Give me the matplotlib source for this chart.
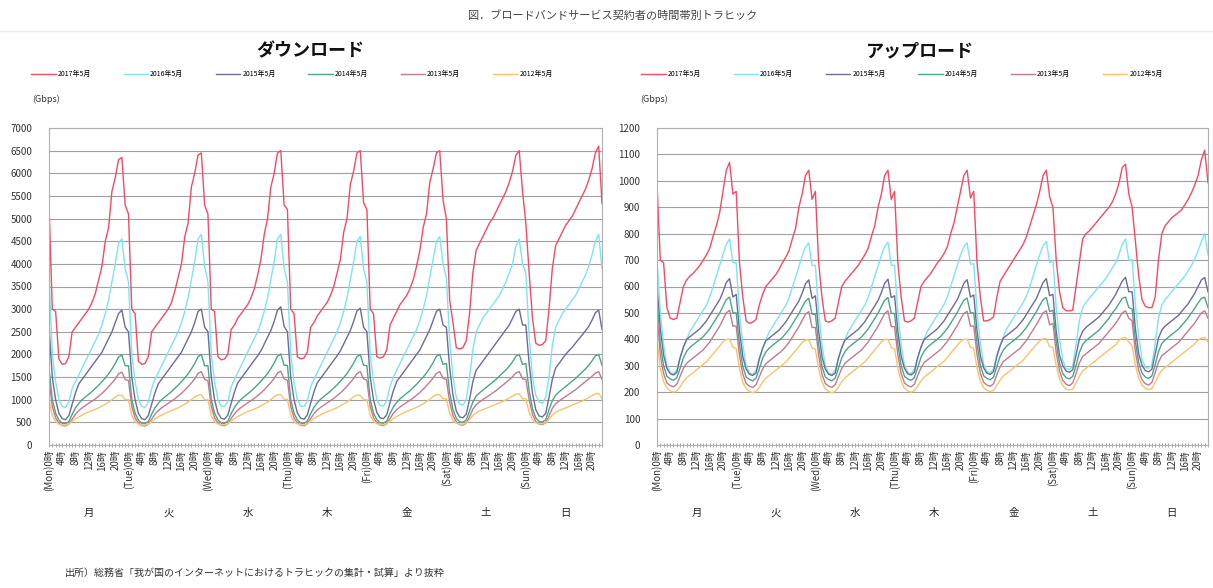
import numpy as np
import matplotlib.pyplot as plt

plt.rcParams['font.family'] = ['Noto Sans CJK JP', 'DejaVu Sans']

# legend labels / colors
YEARS = ['2017年5月', '2016年5月', '2015年5月', '2014年5月', '2013年5月', '2012年5月']
COLORS = ['#f04c66', '#80e4ee', '#6c6c94', '#4aa58a', '#c27a94', '#f7c46c']
DAYS_EN = ['Mon', 'Tue', 'Wed', 'Thu', 'Fri', 'Sat', 'Sun']
DAYS_JP = ['月', '火', '水', '木', '金', '土', '日']

# ---- download (Gbps), one row per day, hours 0..23 ----
DL_2017 = [
    [5300, 3000, 2950, 1900, 1780, 1800, 1950, 2500, 2600, 2700, 2800, 2900, 3000, 3150, 3350, 3650, 3950, 4500, 4800, 5600, 5900, 6300, 6350, 5300],
    [5100, 3000, 2900, 1850, 1780, 1800, 1950, 2500, 2600, 2700, 2800, 2900, 3000, 3150, 3400, 3700, 4000, 4600, 4900, 5700, 6000, 6400, 6450, 5300],
    [5100, 3000, 2950, 1950, 1880, 1900, 2000, 2550, 2650, 2800, 2900, 3000, 3100, 3250, 3450, 3750, 4100, 4650, 5000, 5700, 6000, 6450, 6500, 5300],
    [5200, 3000, 2900, 1950, 1900, 1920, 2050, 2600, 2700, 2850, 2950, 3050, 3150, 3300, 3500, 3800, 4100, 4700, 5000, 5750, 6050, 6450, 6500, 5350],
    [5200, 3000, 2900, 1950, 1920, 1950, 2100, 2650, 2800, 2950, 3100, 3200, 3300, 3450, 3650, 3950, 4300, 4800, 5100, 5800, 6100, 6450, 6500, 5400],
    [5000, 3200, 2700, 2150, 2120, 2150, 2300, 2900, 3800, 4300, 4450, 4600, 4750, 4900, 5000, 5150, 5300, 5450, 5600, 5800, 6050, 6400, 6500, 5600],
    [4900, 3800, 2800, 2250, 2200, 2220, 2300, 3000, 3900, 4400, 4550, 4700, 4850, 4950, 5050, 5200, 5350, 5500, 5650, 5850, 6100, 6450, 6600, 5330],
]
DL_2016 = [
    [3700, 2000, 1400, 1000, 850, 830, 950, 1250, 1400, 1550, 1700, 1850, 2000, 2150, 2300, 2450, 2650, 2900, 3200, 3600, 4000, 4450, 4550, 3900],
    [3600, 2000, 1400, 1000, 850, 830, 950, 1250, 1450, 1600, 1750, 1900, 2050, 2200, 2350, 2500, 2700, 2950, 3250, 3650, 4050, 4550, 4650, 3950],
    [3600, 2000, 1400, 1000, 860, 850, 960, 1280, 1450, 1600, 1750, 1900, 2050, 2200, 2350, 2500, 2700, 2950, 3250, 3650, 4050, 4550, 4650, 3900],
    [3600, 2000, 1400, 1000, 860, 850, 960, 1280, 1450, 1600, 1750, 1900, 2050, 2200, 2350, 2500, 2700, 2950, 3250, 3650, 4050, 4500, 4600, 3900],
    [3600, 2000, 1400, 1000, 870, 860, 980, 1300, 1500, 1650, 1800, 1950, 2100, 2250, 2400, 2550, 2750, 3000, 3300, 3700, 4100, 4500, 4600, 4000],
    [3700, 2300, 1500, 1050, 900, 880, 1000, 1500, 2100, 2500, 2650, 2800, 2900, 3000, 3100, 3200, 3300, 3450, 3600, 3800, 4000, 4400, 4550, 4000],
    [3800, 2400, 1500, 1100, 950, 920, 1050, 1500, 2200, 2600, 2750, 2900, 3000, 3100, 3200, 3300, 3450, 3600, 3750, 3950, 4200, 4500, 4650, 3900],
]
DL_2015 = [
    [2600, 1500, 1000, 700, 580, 560, 650, 900, 1150, 1350, 1450, 1550, 1650, 1750, 1850, 1950, 2050, 2200, 2350, 2500, 2700, 2900, 2980, 2600],
    [2500, 1500, 1000, 700, 580, 560, 650, 900, 1150, 1350, 1450, 1550, 1650, 1750, 1850, 1950, 2050, 2200, 2350, 2500, 2700, 2950, 3000, 2600],
    [2500, 1500, 1000, 710, 590, 570, 660, 920, 1170, 1370, 1470, 1570, 1670, 1770, 1870, 1970, 2080, 2230, 2380, 2530, 2730, 2980, 3050, 2620],
    [2500, 1500, 1000, 710, 590, 570, 660, 920, 1170, 1370, 1470, 1570, 1670, 1770, 1870, 1970, 2080, 2230, 2380, 2530, 2730, 2960, 3020, 2600],
    [2500, 1500, 1000, 720, 600, 580, 670, 940, 1200, 1400, 1500, 1600, 1700, 1800, 1900, 2000, 2100, 2250, 2400, 2550, 2750, 2950, 3000, 2650],
    [2600, 1700, 1100, 750, 620, 600, 680, 1000, 1400, 1650, 1750, 1850, 1950, 2050, 2150, 2250, 2350, 2450, 2550, 2650, 2800, 2950, 3000, 2650],
    [2650, 1800, 1150, 780, 640, 620, 700, 1050, 1450, 1700, 1800, 1900, 2000, 2080, 2160, 2250, 2340, 2430, 2520, 2620, 2760, 2920, 2980, 2550],
]
DL_2014 = [
    [1700, 1000, 700, 550, 480, 470, 520, 680, 820, 920, 1000, 1060, 1120, 1180, 1250, 1320, 1400, 1480, 1570, 1680, 1800, 1940, 1990, 1750],
    [1750, 1000, 700, 550, 480, 470, 520, 680, 820, 920, 1000, 1060, 1120, 1180, 1250, 1320, 1400, 1480, 1570, 1680, 1800, 1950, 2000, 1750],
    [1750, 1000, 700, 555, 485, 475, 525, 690, 830, 930, 1010, 1070, 1130, 1190, 1260, 1330, 1410, 1490, 1580, 1690, 1810, 1960, 2010, 1760],
    [1760, 1000, 700, 555, 485, 475, 525, 690, 830, 930, 1010, 1070, 1130, 1190, 1260, 1330, 1410, 1490, 1580, 1690, 1810, 1950, 2000, 1760],
    [1750, 1000, 700, 560, 490, 480, 530, 700, 840, 940, 1020, 1080, 1140, 1200, 1270, 1340, 1420, 1500, 1590, 1700, 1820, 1960, 2000, 1780],
    [1800, 1150, 780, 590, 510, 500, 550, 750, 950, 1080, 1150, 1210, 1270, 1330, 1390, 1450, 1520, 1590, 1660, 1740, 1840, 1960, 2000, 1780],
    [1800, 1200, 800, 600, 520, 510, 560, 780, 980, 1100, 1170, 1230, 1290, 1350, 1410, 1470, 1540, 1610, 1680, 1760, 1860, 1970, 2000, 1760],
]
DL_2013 = [
    [1450, 850, 600, 480, 430, 420, 460, 570, 680, 760, 820, 870, 920, 970, 1020, 1080, 1140, 1210, 1290, 1370, 1460, 1570, 1610, 1450],
    [1420, 850, 600, 480, 430, 420, 460, 570, 680, 760, 820, 870, 920, 970, 1020, 1080, 1140, 1210, 1290, 1370, 1460, 1580, 1620, 1450],
    [1420, 850, 600, 485, 435, 425, 465, 580, 690, 770, 830, 880, 930, 980, 1030, 1090, 1150, 1220, 1300, 1380, 1470, 1590, 1630, 1460],
    [1430, 850, 600, 485, 435, 425, 465, 580, 690, 770, 830, 880, 930, 980, 1030, 1090, 1150, 1220, 1300, 1380, 1470, 1580, 1620, 1460],
    [1430, 850, 600, 490, 440, 430, 470, 590, 700, 780, 840, 890, 940, 990, 1040, 1100, 1160, 1230, 1310, 1390, 1480, 1580, 1620, 1470],
    [1450, 950, 650, 510, 450, 440, 480, 620, 790, 890, 950, 1000, 1050, 1100, 1150, 1200, 1260, 1320, 1380, 1440, 1510, 1590, 1620, 1460],
    [1450, 1000, 680, 520, 460, 450, 490, 640, 810, 910, 970, 1020, 1070, 1120, 1170, 1220, 1280, 1340, 1400, 1460, 1520, 1590, 1620, 1450],
]
DL_2012 = [
    [1000, 650, 520, 460, 440, 440, 460, 520, 580, 620, 660, 700, 730, 760, 790, 820, 860, 900, 950, 1000, 1060, 1100, 1100, 1000],
    [1000, 650, 520, 460, 440, 440, 460, 520, 580, 620, 660, 700, 730, 760, 790, 820, 860, 900, 950, 1000, 1060, 1100, 1110, 1000],
    [1000, 650, 520, 465, 445, 445, 465, 525, 585, 625, 665, 705, 735, 765, 795, 825, 865, 905, 955, 1005, 1065, 1110, 1110, 1010],
    [1010, 650, 520, 465, 445, 445, 465, 525, 585, 625, 665, 705, 735, 765, 795, 825, 865, 905, 955, 1005, 1065, 1100, 1100, 1000],
    [1000, 650, 525, 470, 450, 450, 470, 530, 590, 630, 670, 710, 740, 770, 800, 830, 870, 910, 960, 1010, 1070, 1110, 1110, 1020],
    [1020, 700, 550, 480, 460, 460, 480, 560, 650, 710, 750, 780, 810, 840, 870, 900, 930, 960, 1000, 1040, 1080, 1120, 1130, 1020],
    [1020, 720, 560, 490, 465, 465, 485, 570, 660, 720, 760, 790, 820, 850, 880, 910, 940, 970, 1010, 1050, 1090, 1130, 1140, 1030],
]

# ---- upload (Gbps) ----
UL_2017 = [
    [990, 700, 690, 520, 480, 475, 480, 540, 600, 625, 640, 650, 665, 680, 700, 720, 745, 790, 830, 880, 960, 1040, 1070, 950],
    [960, 690, 560, 470, 460, 465, 475, 530, 570, 600, 615, 630, 645, 665, 690, 710, 735, 780, 820, 900, 950, 1020, 1040, 930],
    [960, 690, 560, 470, 465, 470, 480, 540, 600, 620, 635, 650, 665, 680, 700, 720, 745, 790, 830, 900, 950, 1020, 1040, 930],
    [960, 690, 560, 470, 465, 470, 480, 540, 600, 620, 635, 650, 670, 690, 705, 725, 750, 800, 840, 900, 960, 1020, 1040, 935],
    [960, 690, 560, 470, 470, 475, 485, 560, 620, 640, 660, 680, 700, 720, 740, 760, 790, 830, 870, 910, 960, 1020, 1040, 940],
    [900, 700, 580, 520, 508, 508, 510, 600, 690, 780, 800, 810, 825, 840, 855, 870, 885, 900, 920, 950, 990, 1050, 1063, 950],
    [900, 770, 640, 550, 525, 520, 520, 560, 700, 800, 830, 845, 860, 870, 880, 890, 910, 930, 955, 985, 1020, 1080, 1116, 993],
]
UL_2016 = [
    [700, 500, 380, 300, 275, 270, 285, 330, 370, 400, 430, 450, 470, 490, 510, 530, 560, 600, 640, 680, 720, 760, 780, 690],
    [690, 500, 380, 300, 272, 268, 282, 328, 368, 398, 428, 448, 468, 488, 508, 528, 555, 595, 635, 675, 715, 750, 765, 680],
    [680, 500, 380, 300, 272, 268, 282, 330, 370, 400, 430, 450, 470, 490, 510, 530, 558, 598, 638, 678, 718, 752, 768, 680],
    [680, 500, 380, 302, 275, 270, 285, 332, 372, 402, 432, 452, 472, 492, 512, 532, 560, 600, 640, 680, 720, 750, 765, 685],
    [685, 505, 385, 305, 278, 273, 288, 340, 380, 410, 440, 460, 480, 500, 520, 540, 565, 600, 640, 680, 720, 755, 770, 690],
    [700, 520, 400, 320, 290, 285, 300, 380, 470, 520, 540, 555, 570, 585, 600, 615, 630, 650, 670, 690, 720, 760, 780, 700],
    [700, 530, 410, 325, 295, 290, 305, 385, 480, 530, 550, 565, 580, 595, 610, 625, 640, 660, 680, 705, 735, 770, 800, 720],
]
UL_2015 = [
    [600, 440, 340, 290, 270, 265, 275, 330, 370, 400, 410, 420, 430, 440, 455, 470, 490, 510, 530, 550, 580, 615, 630, 560],
    [570, 430, 335, 288, 268, 263, 272, 325, 365, 395, 405, 415, 425, 435, 450, 465, 485, 505, 525, 545, 575, 610, 625, 555],
    [565, 430, 335, 288, 268, 263, 272, 328, 368, 398, 408, 418, 428, 438, 452, 467, 487, 507, 527, 547, 577, 612, 628, 558],
    [565, 430, 336, 290, 270, 265, 275, 330, 370, 400, 410, 420, 430, 440, 455, 470, 490, 510, 530, 550, 580, 612, 626, 560],
    [568, 432, 338, 292, 272, 267, 278, 335, 375, 405, 415, 425, 435, 445, 460, 475, 495, 515, 535, 555, 585, 615, 630, 565],
    [570, 430, 340, 300, 280, 275, 285, 340, 400, 430, 445, 455, 465, 475, 485, 500, 515, 530, 550, 570, 595, 620, 635, 580],
    [580, 440, 345, 302, 282, 277, 287, 345, 405, 435, 450, 460, 470, 480, 490, 505, 520, 535, 555, 575, 600, 625, 634, 580],
]
UL_2014 = [
    [560, 380, 300, 260, 250, 245, 255, 290, 330, 355, 370, 380, 390, 400, 410, 425, 440, 460, 480, 500, 525, 550, 560, 500],
    [500, 378, 298, 258, 248, 243, 253, 288, 328, 352, 367, 377, 387, 397, 407, 422, 437, 457, 477, 497, 522, 545, 555, 495],
    [495, 378, 298, 258, 248, 243, 253, 290, 330, 354, 369, 379, 389, 399, 409, 424, 439, 459, 479, 499, 524, 548, 558, 498],
    [498, 380, 300, 260, 250, 245, 255, 292, 332, 356, 371, 381, 391, 401, 411, 426, 441, 461, 481, 501, 526, 548, 556, 500],
    [500, 382, 302, 262, 252, 247, 257, 296, 336, 360, 375, 385, 395, 405, 415, 430, 445, 465, 485, 505, 528, 550, 558, 505],
    [510, 390, 310, 270, 255, 250, 260, 300, 350, 380, 395, 405, 415, 425, 435, 450, 465, 480, 500, 515, 535, 555, 560, 520],
    [515, 392, 312, 272, 257, 252, 262, 304, 354, 384, 398, 408, 418, 428, 438, 452, 467, 482, 500, 518, 538, 555, 559, 520],
]
UL_2013 = [
    [500, 340, 270, 235, 225, 220, 230, 260, 290, 310, 320, 330, 340, 350, 360, 375, 390, 410, 430, 450, 475, 500, 510, 450],
    [450, 338, 268, 233, 223, 218, 228, 258, 288, 308, 318, 328, 338, 348, 358, 373, 388, 408, 428, 448, 472, 495, 505, 445],
    [445, 338, 268, 233, 223, 218, 228, 260, 290, 310, 320, 330, 340, 350, 360, 375, 390, 410, 430, 450, 474, 498, 508, 448],
    [448, 340, 270, 235, 225, 220, 230, 262, 292, 312, 322, 332, 342, 352, 362, 377, 392, 412, 432, 452, 476, 498, 506, 450],
    [450, 342, 272, 237, 227, 222, 232, 266, 296, 316, 326, 336, 346, 356, 366, 381, 396, 416, 436, 456, 478, 500, 508, 455],
    [460, 350, 280, 245, 230, 225, 235, 270, 310, 335, 345, 355, 365, 375, 385, 400, 415, 430, 445, 460, 480, 500, 508, 480],
    [470, 352, 282, 247, 232, 227, 237, 274, 314, 338, 348, 358, 368, 378, 388, 402, 417, 432, 447, 462, 482, 500, 508, 480],
]
UL_2012 = [
    [400, 290, 240, 215, 205, 200, 205, 220, 240, 255, 265, 275, 285, 295, 305, 315, 330, 345, 360, 375, 390, 400, 400, 370],
    [365, 288, 238, 213, 203, 198, 203, 218, 238, 253, 263, 273, 283, 293, 303, 313, 328, 343, 358, 373, 388, 398, 398, 368],
    [362, 288, 238, 213, 203, 198, 203, 220, 240, 255, 265, 275, 285, 295, 305, 315, 330, 345, 360, 375, 390, 400, 400, 368],
    [364, 290, 240, 215, 205, 200, 205, 222, 242, 257, 267, 277, 287, 297, 307, 317, 332, 347, 362, 377, 392, 400, 400, 370],
    [366, 292, 242, 217, 207, 202, 207, 226, 246, 261, 271, 281, 291, 301, 311, 321, 336, 351, 366, 381, 394, 402, 402, 372],
    [370, 300, 250, 225, 212, 208, 212, 235, 260, 280, 290, 300, 310, 320, 330, 340, 350, 360, 370, 380, 395, 405, 407, 390],
    [375, 302, 252, 227, 214, 210, 214, 238, 264, 283, 293, 303, 313, 323, 333, 343, 353, 363, 373, 383, 397, 405, 407, 390],
]

DOWNLOAD = [DL_2017, DL_2016, DL_2015, DL_2014, DL_2013, DL_2012]
UPLOAD = [UL_2017, UL_2016, UL_2015, UL_2014, UL_2013, UL_2012]

W, H = 1213, 588
fig = plt.figure(figsize=(W / 100, H / 100), dpi=100)
fig.patch.set_facecolor('white')


def draw_panel(ax, series, ymax, ystep):
    hours = np.arange(7 * 24)
    for rows, col, lab in zip(series, COLORS, YEARS):
        ax.plot(hours, np.concatenate(rows), color=col, lw=1.0, label=lab)
    ax.set_xlim(0, 167)
    ax.set_ylim(0, ymax)
    ax.set_yticks(np.arange(0, ymax + 1, ystep))
    ax.yaxis.grid(True, color='#a0a0a0', lw=0.8)
    ax.set_axisbelow(True)
    ax.tick_params(axis='y', length=0, pad=12, labelsize=7, labelcolor='#333333')
    xt = np.arange(0, 168, 4)
    labels = []
    for d in DAYS_EN:
        labels += ['(%s)0時' % d, '4時', '8時', '12時', '16時', '20時']
    ax.set_xticks(xt)
    ax.set_xticklabels(labels, rotation=90, fontsize=7, color='#333333')
    ax.set_xticks(np.arange(0, 168, 1), minor=True)
    ax.tick_params(axis='x', which='both', direction='inout', length=3, width=0.6,
                   color='#999999', pad=2)
    for s in ax.spines.values():
        s.set_color('#b0b0b0')
        s.set_linewidth(0.8)
    for i, d in enumerate(DAYS_JP):
        ax.text(i * 24 + 12, -0.215, d, transform=ax.get_xaxis_transform(),
                ha='center', va='center', fontsize=7.5, color='#222222')
    ax.text(-0.005, 1.09, '(Gbps)', transform=ax.transAxes, ha='center',
            va='center', fontsize=6.5, color='#333333')


ax1 = fig.add_axes([49 / W, (H - 445) / H, 553 / W, 317 / H])
ax2 = fig.add_axes([657 / W, (H - 445) / H, 551 / W, 317 / H])
draw_panel(ax1, DOWNLOAD, 7000, 500)
draw_panel(ax2, UPLOAD, 1200, 100)

for ax, cx, title in [(ax1, 310, 'ダウンロード'), (ax2, 920, 'アップロード')]:
    fig.text(cx / W, 1 - 51 / H, title, ha='center', va='center',
             fontsize=13, fontweight='bold', color='#111111')
    ax.legend(loc='center', bbox_to_anchor=((cx - 18) / W, 1 - 74 / H),
              bbox_transform=fig.transFigure, ncol=6, frameon=False,
              fontsize=5, handlelength=3.5, handletextpad=0.3, columnspacing=4.7)

fig.text(0.505, 1 - 16 / H, '図．ブロードバンドサービス契約者の時間帯別トラヒック',
         ha='center', va='center', fontsize=8, color='#444444')
fig.add_artist(plt.Line2D([0, 1], [1 - 31 / H, 1 - 31 / H], color='#eeeeee', lw=1))
fig.text(65 / W, 1 - 573 / H,
         '出所）総務省「我が国のインターネットにおけるトラヒックの集計・試算」より抜粋',
         ha='left', va='center', fontsize=7.2, color='#333333')

fig.savefig('out.png', dpi=100)
